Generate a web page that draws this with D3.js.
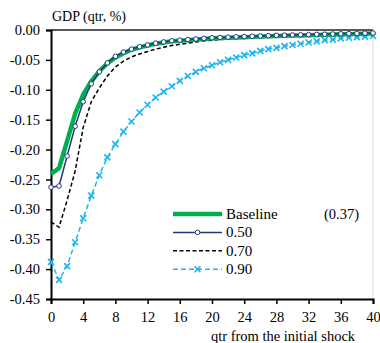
<!DOCTYPE html>
<html>
<head>
<meta charset="utf-8">
<script src="https://cdn.jsdelivr.net/npm/d3@7"></script>
<style>
  body { margin: 0; background: #fff; }
  text { font-family: "Liberation Serif", "Times New Roman", serif; fill: #000; }
</style>
</head>
<body>
<svg id="chart"></svg>
<script>
const quarters = d3.range(0, 41);
const baseline = [-0.241, -0.231, -0.186, -0.140, -0.108, -0.086, -0.069, -0.056, -0.046, -0.039,
  -0.033, -0.029, -0.026, -0.023, -0.021, -0.019, -0.018, -0.017, -0.016, -0.015,
  -0.014, -0.0135, -0.013, -0.0125, -0.012, -0.0115, -0.011, -0.0105, -0.010, -0.0097,
  -0.0093, -0.009, -0.0087, -0.0083, -0.008, -0.0077, -0.0073, -0.007, -0.0067, -0.0063, -0.006];
const rho50 = [-0.263, -0.261, -0.211, -0.161, -0.120, -0.090, -0.070, -0.055, -0.044, -0.037,
  -0.032, -0.028, -0.025, -0.022, -0.020, -0.018, -0.017, -0.016, -0.015, -0.014,
  -0.013, -0.0125, -0.012, -0.0115, -0.011, -0.0105, -0.010, -0.0095, -0.009, -0.0087,
  -0.0083, -0.008, -0.0077, -0.0073, -0.007, -0.0067, -0.0063, -0.006, -0.0057, -0.0053, -0.005];
const rho70 = [-0.321, -0.330, -0.285, -0.236, -0.163, -0.120, -0.097, -0.077, -0.062, -0.052,
  -0.045, -0.040, -0.036, -0.032, -0.029, -0.026, -0.024, -0.022, -0.020, -0.018,
  -0.017, -0.016, -0.015, -0.014, -0.013, -0.0125, -0.012, -0.0115, -0.011, -0.0105,
  -0.010, -0.0095, -0.009, -0.0085, -0.008, -0.0075, -0.007, -0.0065, -0.006, -0.0057, -0.0055];
const rho90 = [-0.388, -0.418, -0.395, -0.355, -0.315, -0.277, -0.243, -0.213, -0.191, -0.170,
  -0.153, -0.138, -0.125, -0.113, -0.103, -0.094, -0.085, -0.077, -0.070, -0.064,
  -0.059, -0.054, -0.050, -0.046, -0.042, -0.039, -0.035, -0.032, -0.030, -0.027,
  -0.025, -0.023, -0.021, -0.019, -0.017, -0.016, -0.014, -0.013, -0.012, -0.011, -0.010];
const yTicks = [0, -0.05, -0.10, -0.15, -0.20, -0.25, -0.30, -0.35, -0.40, -0.45];
const xTicks = d3.range(0, 41, 4);
const seriesNames = ["Baseline", "0.50", "0.70", "0.90"];

const svg_size = {width: 380, height: 343};
const plot_margin = {top: 30, right: 7, bottom: 44, left: 51};
const plot_width = svg_size.width - plot_margin.left - plot_margin.right;
const plot_height = svg_size.height - plot_margin.top - plot_margin.bottom;

const svg = d3.select("#chart")
    .attr("width", svg_size.width)
    .attr("height", svg_size.height);
const plot = svg.append("g")
    .attr("transform", `translate(${plot_margin.left},${plot_margin.top})`);

const x = d3.scaleLinear().domain([0, 40]).range([0, plot_width]);
const y = d3.scaleLinear().domain([-0.45, 0]).range([plot_height, 0]);

// frame: top line and light right border
plot.append("line")
    .attr("x1", 0).attr("x2", plot_width)
    .attr("y1", 0).attr("y2", 0)
    .attr("stroke", "#222").attr("stroke-width", 1.5);
plot.append("line")
    .attr("x1", plot_width).attr("x2", plot_width)
    .attr("y1", 0).attr("y2", plot_height)
    .attr("stroke", "#d9d9d9").attr("stroke-width", 1);

const yAxis = plot.append("g")
    .call(d3.axisLeft(y).tickValues(yTicks).tickSize(5).tickPadding(6)
        .tickFormat(d => d3.format(".2f")(d).replace("−", "-")));
const xAxis = plot.append("g")
    .attr("transform", `translate(0,${plot_height})`)
    .call(d3.axisBottom(x).tickValues(xTicks).tickSize(5).tickPadding(8));
[xAxis, yAxis].forEach(a => {
    a.select(".domain").attr("stroke", "#000").attr("stroke-width", 2);
    a.selectAll(".tick line").attr("stroke", "#000").attr("stroke-width", 1.5);
    a.selectAll(".tick text")
        .style("font-family", "'Liberation Serif', serif")
        .style("font-size", "14.5px");
});

svg.append("text")
    .attr("x", 52).attr("y", 21)
    .style("font-size", "14px")
    .text("GDP (qtr, %)");
svg.append("text")
    .attr("x", 283).attr("y", 341)
    .attr("text-anchor", "middle")
    .style("font-size", "14.5px")
    .text("qtr from the initial shock");

const series = [
    {name: seriesNames[0], values: baseline, color: "#00b050", width: 4.5, dash: null, marker: null},
    {name: seriesNames[1], values: rho50, color: "#1f3a7a", width: 1.5, dash: null, marker: "circle"},
    {name: seriesNames[2], values: rho70, color: "#000000", width: 1.5, dash: "4,2.5", marker: null},
    {name: seriesNames[3], values: rho90, color: "#1cb4f0", width: 1.5, dash: "5,3", marker: "cross"}
];

const line = d3.line()
    .x((d, i) => x(quarters[i]))
    .y(d => y(d));

function drawMarker(g, type, color, cx, cy) {
    if (type === "circle") {
        g.append("circle")
            .attr("cx", cx).attr("cy", cy).attr("r", 2.3)
            .attr("fill", "#fff").attr("stroke", color).attr("stroke-width", 1);
    } else if (type === "cross") {
        const s = 3;
        g.append("path")
            .attr("d", `M${cx - s},${cy - s}L${cx + s},${cy + s}M${cx - s},${cy + s}L${cx + s},${cy - s}`)
            .attr("stroke", color).attr("stroke-width", 1.6).attr("fill", "none");
    }
}

// draw back to front so green sits under the others
[series[3], series[2], series[0], series[1]].forEach(s => {
    const g = plot.append("g");
    g.append("path")
        .datum(s.values)
        .attr("d", line)
        .attr("fill", "none")
        .attr("stroke", s.color)
        .attr("stroke-width", s.width)
        .attr("stroke-dasharray", s.dash);
    if (s.marker) {
        s.values.forEach((v, i) => drawMarker(g, s.marker, s.color, x(quarters[i]), y(v)));
    }
});

// legend
const legend = svg.append("g").attr("transform", "translate(173,214)");
series.forEach((s, i) => {
    const row = legend.append("g").attr("transform", `translate(0,${i * 18.4})`);
    row.append("line")
        .attr("x1", 0).attr("x2", 49).attr("y1", 0).attr("y2", 0)
        .attr("stroke", s.color)
        .attr("stroke-width", s.width)
        .attr("stroke-dasharray", s.dash);
    if (s.marker) drawMarker(row, s.marker, s.color, 24.5, 0);
    row.append("text")
        .attr("x", 53).attr("y", 5)
        .style("font-size", "15px")
        .text(s.name);
});
legend.append("text")
    .attr("x", 151).attr("y", 5)
    .style("font-size", "14.5px")
    .text("(0.37)");
</script>
</body>
</html>
